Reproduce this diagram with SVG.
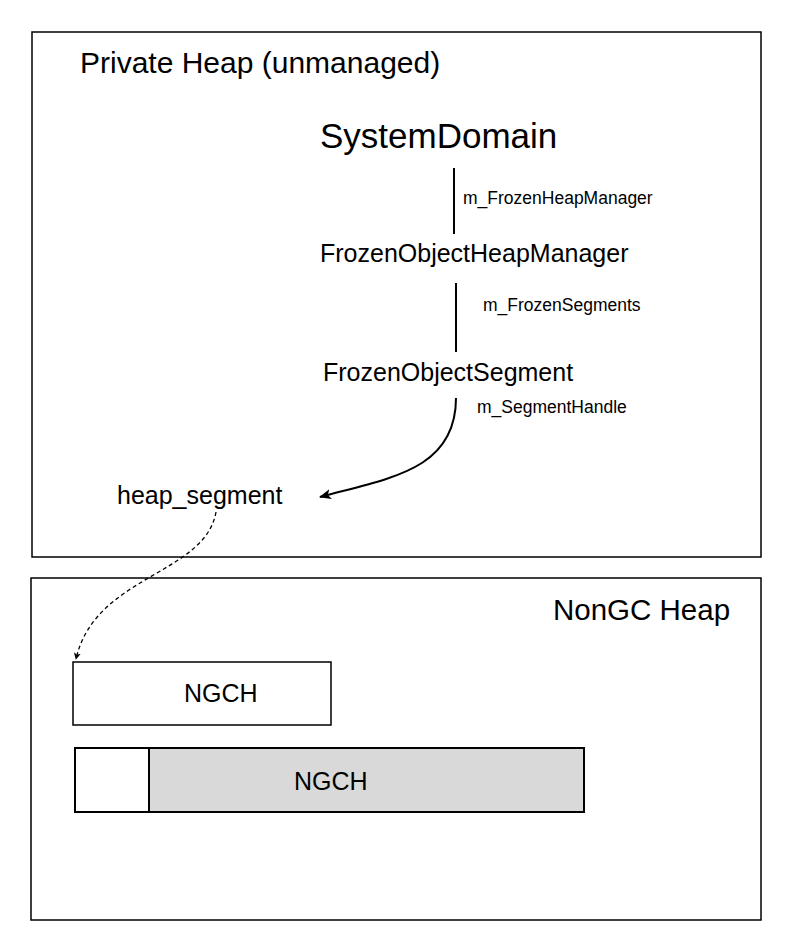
<svg xmlns="http://www.w3.org/2000/svg" width="791" height="941" viewBox="0 0 791 941">
<style>
text{font-family:"Liberation Sans",Arial,sans-serif;fill:#000}
.box{fill:#fff;stroke:#000;stroke-width:1.5}
.ln{fill:none;stroke:#000;stroke-width:2}
.lbl{font-size:17.5px}
</style>
<defs>
<marker id="ah" viewBox="0 0 12 10" refX="11" refY="5" markerWidth="12" markerHeight="10" markerUnits="userSpaceOnUse" orient="auto">
<path d="M0,0 L12,5 L0,10 L3,5 Z" fill="#000"/>
</marker>
<marker id="ah2" viewBox="0 0 8 8" refX="7" refY="4" markerWidth="7" markerHeight="7" markerUnits="userSpaceOnUse" orient="auto">
<path d="M0,0 L8,4 L0,8 L2,4 Z" fill="#000"/>
</marker>
</defs>
<rect width="791" height="941" fill="#fff"/>
<g id="private-heap">
<rect class="box" x="32" y="32" width="729" height="525"/>
<text x="80" y="73" font-size="30">Private Heap (unmanaged)</text>
</g>
<g id="nongc-heap">
<rect class="box" x="31" y="578" width="730" height="342"/>
<text x="553" y="620" font-size="29.5">NonGC Heap</text>
</g>
<g id="systemdomain"><text x="320" y="148" font-size="35">SystemDomain</text></g>
<g id="fohm"><text x="320" y="262" font-size="25">FrozenObjectHeapManager</text></g>
<g id="fos"><text x="323" y="381" font-size="25">FrozenObjectSegment</text></g>
<g id="heap-segment"><text x="117" y="504" font-size="25">heap_segment</text></g>
<g id="ngch1">
<rect class="box" x="73" y="662" width="258" height="63"/>
<text x="184" y="702" font-size="25">NGCH</text>
</g>
<g id="ngch2">
<rect x="75" y="748" width="509" height="64" fill="#d9d9d9" stroke="#000" stroke-width="2"/>
<rect x="75" y="748" width="74" height="64" fill="#fff" stroke="#000" stroke-width="2"/>
<text x="294" y="790" font-size="25">NGCH</text>
</g>
<g id="connectors">
<line class="ln" x1="454" y1="168" x2="454" y2="234"/>
<text class="lbl" x="463" y="204">m_FrozenHeapManager</text>
<line class="ln" x1="456" y1="283" x2="456" y2="352"/>
<text class="lbl" x="483" y="311">m_FrozenSegments</text>
<path class="ln" d="M456,398 C456,470 390,478 320,497" marker-end="url(#ah)"/>
<text class="lbl" x="477" y="413">m_SegmentHandle</text>
<path d="M216,512 C205,575 95,575 76,659" fill="none" stroke="#000" stroke-width="1.3" stroke-dasharray="4,3" marker-end="url(#ah2)"/>
</g>
</svg>
